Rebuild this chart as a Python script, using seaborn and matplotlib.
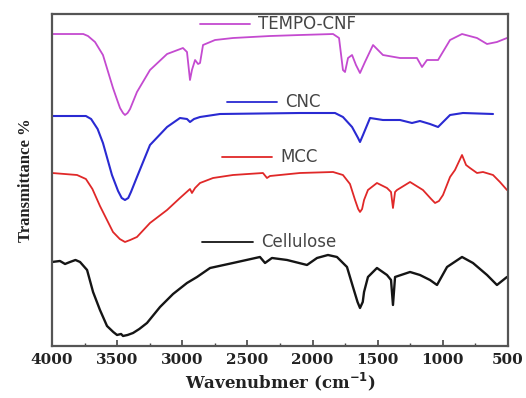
import numpy as np
import pandas as pd
import seaborn as sns
from matplotlib import pyplot as plt
from matplotlib.ticker import MultipleLocator

# FTIR spectra (wavenumber cm-1, arbitrary transmittance)
tempo_wn = [4000, 3760, 3724, 3670, 3609, 3532, 3500, 3478, 3455, 3440, 3420, 3401,
            3348, 3248, 3117, 2995, 2964, 2941, 2926, 2902, 2879, 2864, 2841, 2749,
            2611, 2327, 2097, 1843, 1797, 1767, 1751, 1728, 1697, 1667, 1636, 1598,
            1536, 1460, 1329, 1199, 1160, 1122, 1037, 945, 853, 738, 661, 585, 508]
tempo_t = [312, 312, 310, 304, 291, 258, 246, 238, 233, 231, 233, 237,
           254, 276, 292, 298, 294, 266, 276, 286, 282, 283, 301, 306,
           308, 310, 311, 312, 308, 276, 274, 288, 291, 281, 273, 284,
           301, 291, 288, 288, 279, 286, 286, 306, 312, 308, 302, 304, 308]

cnc_wn = [4000, 3740, 3700, 3650, 3609, 3540, 3493, 3465, 3440, 3415, 3394, 3348,
          3248, 3117, 3018, 2964, 2941, 2910, 2864, 2711, 2097, 1828, 1767, 1697,
          1651, 1636, 1613, 1559, 1460, 1329, 1237, 1176, 1099, 1037, 945, 846, 615]
cnc_t = [230, 230, 227, 217, 203, 171, 155, 148, 146, 148, 154, 169,
         201, 219, 228, 227, 224, 227, 229, 232, 233, 233, 229, 219,
         208, 204, 211, 228, 226, 226, 223, 225, 222, 219, 231, 233, 232]

mcc_wn = [4000, 3808, 3740, 3690, 3632, 3532, 3480, 3440, 3400, 3348, 3248, 3117,
          3018, 2941, 2926, 2902, 2864, 2764, 2611, 2381, 2350, 2327, 2097, 1843,
          1767, 1713, 1674, 1650, 1636, 1620, 1605, 1575, 1506, 1429, 1398, 1383,
          1367, 1352, 1252, 1153, 1090, 1060, 1030, 999, 945, 907, 853, 822, 792,
          738, 692, 615, 562, 508]
mcc_t = [173, 171, 167, 157, 140, 114, 107, 104, 106, 109, 123, 136,
         148, 157, 153, 158, 163, 168, 171, 173, 168, 170, 173, 174,
         171, 162, 146, 137, 134, 137, 146, 156, 163, 158, 154, 138,
         154, 156, 164, 156, 147, 143, 145, 151, 169, 176, 191, 181, 178,
         173, 174, 171, 164, 156]

cell_wn = [4000, 3939, 3900, 3862, 3820, 3785, 3731, 3685, 3632, 3578, 3530, 3501,
           3470, 3455, 3420, 3378, 3330, 3271, 3171, 3071, 2964, 2887, 2787, 2611,
           2404, 2365, 2312, 2196, 2043, 1966, 1882, 1813, 1736, 1690, 1655, 1636,
           1615, 1605, 1575, 1506, 1429, 1398, 1383, 1367, 1252, 1176, 1099, 1045,
           968, 853, 769, 661, 585, 508]
cell_t = [84, 85, 82, 84, 86, 84, 76, 54, 36, 20, 14, 11,
          12, 10, 11, 13, 17, 23, 39, 52, 63, 69, 78, 83,
          89, 83, 88, 86, 81, 88, 91, 89, 79, 59, 44, 38,
          44, 54, 69, 78, 71, 66, 41, 69, 74, 71, 66, 61,
          79, 89, 83, 71, 61, 69]

series = [
    ("TEMPO-CNF", tempo_wn, tempo_t, "#c44ad0", 1.3),
    ("CNC", cnc_wn, cnc_t, "#2a2ad2", 1.5),
    ("MCC", mcc_wn, mcc_t, "#e02828", 1.3),
    ("Cellulose", cell_wn, cell_t, "#151515", 1.7),
]

# label placement: (x0, x1, y) in axes fraction
label_pos = {
    "TEMPO-CNF": (0.325, 0.434, 0.970),
    "CNC": (0.384, 0.493, 0.735),
    "MCC": (0.373, 0.482, 0.569),
    "Cellulose": (0.329, 0.441, 0.313),
}

sns.set_style("ticks")
fig = plt.figure(figsize=(5.26, 3.98), dpi=100)
ax = fig.add_axes([0.0989, 0.1307, 0.8669, 0.8341])

for name, wn, t, color, lw in series:
    df = pd.DataFrame({"wn": wn, "t": t})
    sns.lineplot(data=df, x="wn", y="t", ax=ax, color=color, linewidth=lw,
                 estimator=None, sort=False)
    x0, x1, y = label_pos[name]
    ax.plot([x0, x1], [y, y], transform=ax.transAxes, color=color, linewidth=1.3)
    ax.text(x1 + 0.018, y, name, transform=ax.transAxes, va="center", ha="left",
            fontsize=12, color="#454545", family="DejaVu Sans")

ax.set_xlim(4000, 500)
ax.set_ylim(0, 332)
ax.set_yticks([])
ax.xaxis.set_major_locator(MultipleLocator(500))
ax.xaxis.set_minor_locator(MultipleLocator(250))
ax.tick_params(axis="x", which="major", direction="in", length=4, width=1.2,
               color="#444444", pad=5)
ax.tick_params(axis="x", which="minor", direction="in", length=2.5, width=1.0,
               color="#444444")
for lab in ax.get_xticklabels():
    lab.set_fontfamily("DejaVu Serif")
    lab.set_fontweight("bold")
    lab.set_fontsize(11)
    lab.set_color("#222222")

for sp in ax.spines.values():
    sp.set_color("#555555")
    sp.set_linewidth(1.6)

ax.set_xlabel("Wavenubmer (cm$^{\\mathbf{-1}}$)", fontsize=12, fontweight="bold",
              family="DejaVu Serif", color="#222222", labelpad=3)
ax.set_ylabel("Transmittance %", fontsize=12, fontweight="bold",
              family="Liberation Serif", color="#222222", labelpad=13)

fig.savefig("out.png", dpi=100)
